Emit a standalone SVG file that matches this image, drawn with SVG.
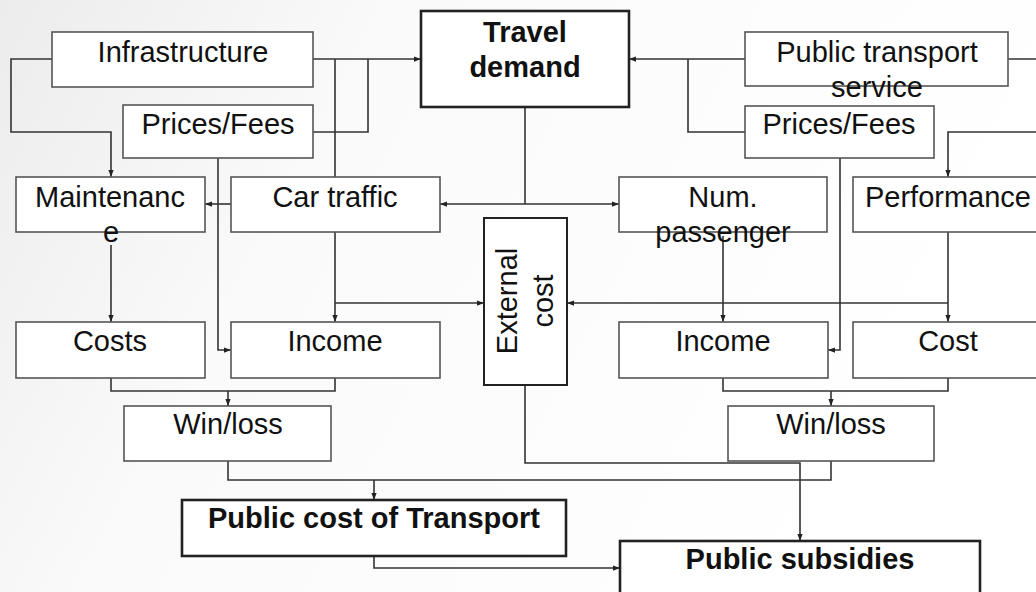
<svg xmlns="http://www.w3.org/2000/svg" width="1036" height="592" viewBox="0 0 1036 592">
<defs>
<linearGradient id="bg" x1="0" y1="0" x2="1" y2="0.3">
<stop offset="0" stop-color="#ececec"/>
<stop offset="0.35" stop-color="#fafafa"/>
<stop offset="1" stop-color="#ffffff"/>
</linearGradient>
<marker id="ah" viewBox="0 0 8 6" refX="8" refY="3" markerWidth="7" markerHeight="6" markerUnits="userSpaceOnUse" orient="auto">
<path d="M0,0 L8,3 L0,6 z" fill="#222"/>
</marker>
</defs>
<style>
.box{fill:#ffffff;stroke:#555;stroke-width:1.6}
.bbox{fill:#ffffff;stroke:#222;stroke-width:2.6}
.t{font-family:"Liberation Sans",Arial,Helvetica,sans-serif;font-size:29px;fill:#111;text-anchor:middle}
.b{font-weight:bold}
.c{fill:none;stroke:#333;stroke-width:1.6}
.a{marker-end:url(#ah)}
</style>
<rect x="0" y="0" width="1036" height="592" fill="url(#bg)"/>

<g id="connectors">
<path class="c a" d="M313,59 H421"/>
<path class="c" d="M313,132 H368 V59"/>
<path class="c" d="M335,177 V59"/>
<path class="c a" d="M745,59 H629"/>
<path class="c" d="M745,132 H688 V59"/>
<path class="c a" d="M52,59 H11 V132 H111 V177"/>
<path class="c" d="M525,107 V204"/>
<path class="c a" d="M525,204 H440"/>
<path class="c a" d="M525,204 H619"/>
<path class="c a" d="M231,204 H205"/>
<path class="c a" d="M1008,59 H1045 V132 H948 V177"/>
<path class="c a" d="M111,245 V322"/>
<path class="c a" d="M218,158 V350 H231"/>
<path class="c a" d="M335,232 V322"/>
<path class="c a" d="M335,303 H484"/>
<path class="c a" d="M723,236 V322"/>
<path class="c a" d="M840,158 V350 H828"/>
<path class="c a" d="M948,232 V322"/>
<path class="c a" d="M948,303 H567"/>
<path class="c" d="M111,378 V391 H335 V378"/>
<path class="c a" d="M228,391 V406"/>
<path class="c" d="M723,378 V391 H948 V378"/>
<path class="c a" d="M831,391 V406"/>
<path class="c" d="M228,461 V480 H831 V461"/>
<path class="c a" d="M374,480 V500"/>
<path class="c a" d="M525,385 V463 H800 V541"/>
<path class="c a" d="M374,556 V568 H620"/>
</g>

<g id="infrastructure">
<rect class="box" x="52" y="32" width="261" height="55"/>
<text class="t" x="183" y="62">Infrastructure</text>
</g>
<g id="prices-fees-left">
<rect class="box" x="123" y="105" width="190" height="53"/>
<text class="t" x="218" y="134">Prices/Fees</text>
</g>
<g id="travel-demand">
<rect class="bbox" x="421" y="11" width="208" height="96"/>
<text class="t b" x="525" y="42">Travel</text>
<text class="t b" x="525" y="77">demand</text>
</g>
<g id="public-transport-service">
<rect class="box" x="745" y="32" width="263" height="54"/>
<text class="t" x="877" y="62">Public transport</text>
<text class="t" x="877" y="97">service</text>
</g>
<g id="prices-fees-right">
<rect class="box" x="745" y="106" width="189" height="52"/>
<text class="t" x="839" y="134">Prices/Fees</text>
</g>
<g id="maintenance">
<rect class="box" x="16" y="177" width="189" height="55"/>
<text class="t" x="110" y="207">Maintenanc</text>
<text class="t" x="111" y="242">e</text>
</g>
<g id="car-traffic">
<rect class="box" x="231" y="177" width="209" height="55"/>
<text class="t" x="335" y="207">Car traffic</text>
</g>
<g id="num-passenger">
<rect class="box" x="619" y="177" width="208" height="55"/>
<text class="t" x="723" y="207">Num.</text>
<text class="t" x="723" y="242">passenger</text>
</g>
<g id="performance">
<rect class="box" x="853" y="177" width="192" height="55"/>
<text class="t" x="948" y="207">Performance</text>
</g>
<g id="external-cost">
<rect class="bbox" x="484" y="218" width="83" height="167" style="stroke-width:2"/>
<text class="t" transform="translate(517,301) rotate(-90)" x="0" y="0">External</text>
<text class="t" transform="translate(553,301) rotate(-90)" x="0" y="0">cost</text>
</g>
<g id="costs">
<rect class="box" x="16" y="322" width="189" height="56"/>
<text class="t" x="110" y="351">Costs</text>
</g>
<g id="income-left">
<rect class="box" x="231" y="322" width="209" height="56"/>
<text class="t" x="335" y="351">Income</text>
</g>
<g id="income-right">
<rect class="box" x="619" y="322" width="209" height="56"/>
<text class="t" x="723" y="351">Income</text>
</g>
<g id="cost">
<rect class="box" x="853" y="322" width="192" height="56"/>
<text class="t" x="948" y="351">Cost</text>
</g>
<g id="win-loss-left">
<rect class="box" x="124" y="406" width="207" height="55"/>
<text class="t" x="228" y="434">Win/loss</text>
</g>
<g id="win-loss-right">
<rect class="box" x="728" y="406" width="206" height="55"/>
<text class="t" x="831" y="434">Win/loss</text>
</g>
<g id="public-cost">
<rect class="bbox" x="182" y="500" width="384" height="56"/>
<text class="t b" x="374" y="528">Public cost of Transport</text>
</g>
<g id="public-subsidies">
<rect class="bbox" x="620" y="541" width="360" height="62"/>
<text class="t b" x="800" y="569">Public subsidies</text>
</g>
</svg>
